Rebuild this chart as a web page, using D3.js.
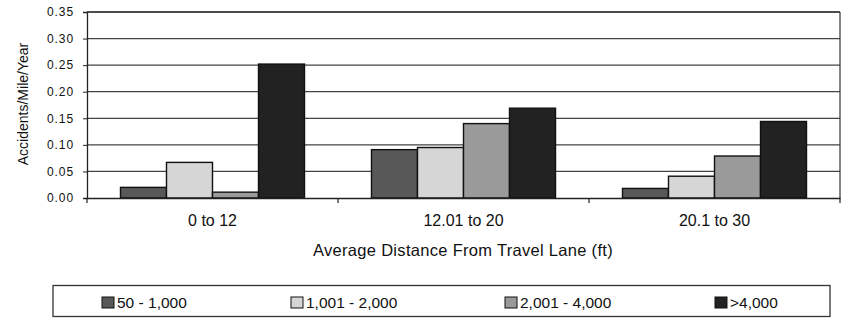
<!DOCTYPE html>
<html><head><meta charset="utf-8">
<script src="https://cdn.jsdelivr.net/npm/d3@7"></script>
<style>body{margin:0;background:#fff}svg{display:block}text{font-family:"Liberation Sans",Arial,sans-serif;fill:#111}</style>
</head><body><svg id="c" width="857" height="328"></svg>
<script>
const categories = ["0 to 12", "12.01 to 20", "20.1 to 30"];
const seriesNames = ["50 - 1,000", "1,001 - 2,000", "2,001 - 4,000", ">4,000"];
const s1 = [0.020, 0.091, 0.018];
const s2 = [0.067, 0.095, 0.041];
const s3 = [0.011, 0.140, 0.079];
const s4 = [0.252, 0.169, 0.144];
const yTicks = [0, 0.05, 0.10, 0.15, 0.20, 0.25, 0.30, 0.35];
const colors = ["#585858", "#d6d6d6", "#9a9a9a", "#222222"];
const series = [s1, s2, s3, s4];

const svg = d3.select("#c");
const L = 87, R = 840, T = 12, B = 198;
const x0 = d3.scaleBand().domain(categories).range([L, R]).paddingInner(0).paddingOuter(0);
const x1 = d3.scaleBand().domain(d3.range(4)).range([0, x0.bandwidth()]).paddingInner(0).paddingOuter(0.728);
const y = d3.scaleLinear().domain([0, 0.35]).range([B, T]);

// gridlines
svg.append("g").selectAll("line").data(yTicks.filter(v => v > 0)).join("line")
  .attr("x1", L).attr("x2", R).attr("y1", d => y(d)).attr("y2", d => y(d))
  .attr("stroke", d => d === 0.35 ? "#111" : "#444").attr("stroke-width", d => d === 0.35 ? 1.6 : 1.2);
// right border
svg.append("line").attr("x1", R).attr("x2", R).attr("y1", T).attr("y2", B).attr("stroke", "#333").attr("stroke-width", 1.2);

// bars
const groups = svg.append("g").selectAll("g").data(categories).join("g")
  .attr("transform", d => `translate(${x0(d)},0)`);
groups.selectAll("rect").data((c, i) => series.map((s, k) => ({k, v: s[i]}))).join("rect")
  .attr("x", d => x1(d.k)).attr("width", x1.bandwidth())
  .attr("y", d => y(d.v)).attr("height", d => y(0) - y(d.v))
  .attr("fill", d => colors[d.k]).attr("stroke", "#111").attr("stroke-width", 1.4);

// y axis
const ya = svg.append("g").attr("transform", `translate(${L},0)`)
  .call(d3.axisLeft(y).tickValues(yTicks).tickFormat(d3.format(".2f")).tickSize(4).tickPadding(9));
ya.select(".domain").attr("stroke", "#222").attr("stroke-width", 1.3);
ya.selectAll(".tick line").attr("stroke", "#222");
ya.selectAll("text").style("font-size", "12px").style("letter-spacing", "0.9px").attr("fill", "#111");

// x axis
const xa = svg.append("g").attr("transform", `translate(0,${B})`)
  .call(d3.axisBottom(x0).tickSize(0).tickPadding(17));
xa.select(".domain").attr("stroke", "#222").attr("stroke-width", 1.4);
xa.selectAll("text").style("font-size", "16px").attr("fill", "#111");
const bounds = categories.map(c => x0(c)).concat([R]);
svg.append("g").selectAll("line").data(bounds).join("line")
  .attr("x1", d => d).attr("x2", d => d).attr("y1", B).attr("y2", B + 5).attr("stroke", "#222").attr("stroke-width", 1.2);

// titles
svg.append("text").attr("x", 463).attr("y", 256).attr("text-anchor", "middle")
  .style("font-size", "16.5px").style("letter-spacing", "0.3px").text("Average Distance From Travel Lane (ft)");
svg.append("text").attr("transform", "translate(28,104) rotate(-90)").attr("text-anchor", "middle")
  .style("font-size", "14px").text("Accidents/Mile/Year");

// legend
svg.append("rect").attr("x", 53).attr("y", 285.5).attr("width", 777).attr("height", 31)
  .attr("fill", "#fff").attr("stroke", "#333").attr("stroke-width", 1.3);
const legX = [102, 291, 505, 715];
const lg = svg.append("g").selectAll("g").data(seriesNames).join("g")
  .attr("transform", (d, i) => `translate(${legX[i]},297)`);
lg.append("rect").attr("width", 12).attr("height", 11).attr("fill", (d, i) => colors[i]).attr("stroke", "#111").attr("stroke-width", 1);
lg.append("text").attr("x", 15).attr("y", 10.5).style("font-size", "15.5px").text(d => d);
</script></body></html>
